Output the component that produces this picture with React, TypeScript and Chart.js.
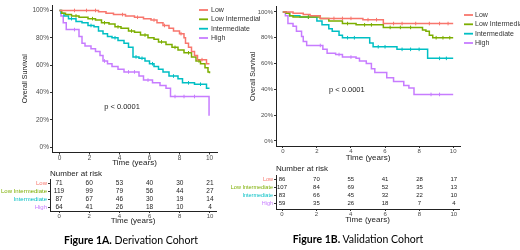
import React, { useEffect, useRef } from "react";
import { Chart, registerables } from "chart.js";
Chart.register(...registerables);

// ---------- data ----------
const groups = ["Low", "Low Intermediate", "Intermediate", "High"];
const groupColors = ["#F8766D", "#7CAE00", "#00BFC4", "#C77CFF"];
const xTickValues = [0, 2, 4, 6, 8, 10];
const yTickValues = [0, 20, 40, 60, 80, 100];
const riskTimes = [0, 2, 4, 6, 8, 10];

// Figure 1A — Derivation cohort (time in years, overall survival %)
const derivLowT = [0, 2.6, 3.1, 3.6, 4.4, 5.0, 5.6, 6.1, 6.5, 6.9, 7.3, 7.6, 8.0, 8.3, 8.4, 8.6, 8.8, 9.0, 9.2, 9.8, 10];
const derivLowS = [100, 99, 98, 97, 96, 95, 94, 93, 91, 89, 87, 85, 83, 80, 76, 73, 70, 67, 64, 61, 61];
const derivLowIntT = [0, 0.15, 0.4, 0.8, 1.3, 1.9, 2.4, 2.8, 3.3, 3.7, 4.1, 4.6, 5.0, 5.4, 5.9, 6.3, 6.6, 7.1, 7.5, 7.9, 8.3, 8.8, 9.1, 9.4, 9.7, 9.9, 10];
const derivLowIntS = [100, 98, 97, 96, 95, 94, 93, 91, 90, 88, 87, 85, 84, 82, 80, 79, 77, 75, 73, 71, 69, 66, 63, 61, 58, 55, 54];
const derivIntT = [0, 0.1, 0.3, 0.6, 1.1, 1.5, 1.9, 2.3, 2.6, 2.9, 3.2, 3.5, 3.9, 4.3, 4.6, 4.9, 5.3, 5.7, 6.0, 6.3, 6.6, 6.9, 7.3, 7.9, 8.2, 9.0, 9.8, 10];
const derivIntS = [100, 98, 96, 94, 92, 91, 89, 88, 85, 83, 81, 80, 78, 76, 73, 66, 65, 63, 61, 59, 57, 55, 52, 50, 47, 46, 43, 43];
const derivHighT = [0, 0.1, 0.25, 0.45, 1.3, 1.5, 1.7, 2.1, 2.4, 2.7, 2.9, 3.2, 3.5, 3.9, 4.3, 5.3, 5.6, 6.2, 6.7, 7.1, 7.4, 9.97];
const derivHighS = [100, 96, 91, 86, 81, 76, 74, 72, 70, 67, 63, 61, 59, 57, 55, 52, 49, 47, 45, 43, 37, 23];

// censoring times (years) — Derivation
const derivLowCens = [1.0, 1.8, 2.4, 4.2, 5.2, 6.3, 7.0, 8.1, 9.5];
const derivLowIntCens = [1.1, 2.2, 3.0, 3.9, 4.8, 5.7, 6.8, 7.7, 8.6, 9.3];
const derivIntCens = [0.8, 2.1, 3.7, 5.1, 5.5, 6.2, 7.6, 8.6, 9.4];
const derivHighCens = [1.0, 3.0, 4.6, 5.0, 5.9, 7.7, 8.3, 9.0];

// Figure 1B — Validation cohort
const validLowT = [0, 0.6, 1.2, 1.6, 2.2, 4.7, 5.9, 10];
const validLowS = [100, 99, 98, 97, 95, 94, 91, 91];
const validLowIntT = [0, 0.2, 0.4, 0.6, 2.2, 2.7, 3.5, 4.3, 5.9, 8.2, 8.4, 8.6, 8.8, 10];
const validLowIntS = [100, 99, 97, 96, 95, 93, 91, 90, 88, 86, 85, 82, 80, 80];
const validIntT = [0, 0.2, 0.4, 1.0, 2.0, 2.3, 2.7, 2.9, 3.3, 3.5, 5.1, 5.3, 6.7, 8.5, 10];
const validIntS = [100, 99, 97, 96, 93, 90, 87, 85, 82, 80, 76, 73, 71, 64, 64];
const validHighT = [0, 0.15, 0.3, 0.6, 0.8, 1.1, 1.2, 1.4, 2.35, 2.6, 3.1, 3.5, 4.3, 4.5, 4.9, 5.2, 5.4, 6.1, 6.5, 7.1, 7.4, 7.7, 10];
const validHighS = [100, 97, 91, 89, 85, 81, 77, 74, 71, 68, 67, 65, 64, 62, 60, 56, 53, 49, 46, 43, 41, 36, 36];

// censoring times (years) — Validation
const validLowCens = [3.0, 3.5, 4.0, 5.0, 5.5, 6.5, 7.0, 7.8, 8.6, 9.2, 9.7];
const validLowIntCens = [1.5, 3.8, 4.8, 5.2, 6.3, 6.9, 7.5, 9.0, 9.4, 9.8];
const validIntCens = [1.5, 3.8, 4.2, 5.6, 6.0, 7.0, 7.5, 8.0, 9.2, 9.6];
const validHighCens = [2.2, 3.3, 4.0, 8.7, 9.2];

// Number at risk
const derivRiskLow = [71, 60, 53, 40, 30, 21];
const derivRiskLowInt = [119, 99, 79, 56, 44, 27];
const derivRiskInt = [87, 67, 46, 30, 19, 14];
const derivRiskHigh = [64, 41, 26, 18, 10, 4];
const validRiskLow = [86, 70, 55, 41, 28, 17];
const validRiskLowInt = [107, 84, 69, 52, 35, 13];
const validRiskInt = [83, 66, 45, 32, 22, 10];
const validRiskHigh = [59, 35, 26, 18, 7, 4];

const pValueText = "p < 0.0001";
const FONT = "'Liberation Sans', Arial, sans-serif";

// survival value of a step curve at time c (last step at or before c)
function stepValue(t: number[], s: number[], c: number) {
  let v = s[0];
  for (let i = 0; i < t.length; i++) if (t[i] <= c) v = s[i];
  return v;
}

// ---------- chart builders ----------
type KMOpts = {
  series: [number[], number[], number[]][];
  xMin: number; xMax: number; yMin: number; yMax: number;
  padTop: number; padRight: number; yAxisW: number; xAxisH: number;
  yTitlePad: number; tickFont: number;
  legendLineX: number; legendTextX: number; legendRows: number[];
  pX: number; pY: number;
};

function kmConfig(o: KMOpts): any {
  const legendPlugin = {
    id: "kmLegend",
    afterDraw(chart: any) {
      const ctx = chart.ctx;
      ctx.save();
      ctx.font = `7px ${FONT}`;
      ctx.textBaseline = "middle";
      ctx.textAlign = "left";
      groups.forEach((g, i) => {
        const y = o.legendRows[i];
        ctx.strokeStyle = groupColors[i];
        ctx.lineWidth = 1.8;
        ctx.beginPath();
        ctx.moveTo(o.legendLineX, y);
        ctx.lineTo(o.legendLineX + 9, y);
        ctx.stroke();
        ctx.fillStyle = "#333";
        ctx.fillText(g, o.legendTextX, y);
      });
      const px = chart.scales.x.getPixelForValue(o.pX);
      const py = chart.scales.y.getPixelForValue(o.pY);
      ctx.font = `7.5px ${FONT}`;
      ctx.textAlign = "center";
      ctx.fillStyle = "#222";
      ctx.fillText(pValueText, px, py);
      ctx.restore();
    },
  };
  const curves = o.series.map(([t, s], i) => ({
    type: "line",
    label: groups[i],
    data: t.map((x, k) => ({ x, y: s[k] })),
    borderColor: groupColors[i],
    backgroundColor: groupColors[i],
    borderWidth: 1.5,
    stepped: "before",
    pointRadius: 0,
    fill: false,
    order: 1,
  }));
  const censors = o.series.map(([t, s, c], i) => ({
    type: "scatter",
    label: groups[i] + " censored",
    data: c.map((x) => ({ x, y: stepValue(t, s, x) })),
    borderColor: groupColors[i],
    backgroundColor: groupColors[i],
    pointStyle: "line",
    rotation: 90,
    pointRadius: 1.8,
    pointBorderWidth: 1,
    showLine: false,
    order: 0,
  }));
  return {
    type: "line",
    data: { datasets: [...curves, ...censors] },
    options: {
      animation: false,
      responsive: false,
      maintainAspectRatio: false,
      layout: { padding: { top: o.padTop, right: o.padRight, left: 0, bottom: 0 } },
      plugins: { legend: { display: false }, tooltip: { enabled: false }, title: { display: false } },
      scales: {
        x: {
          type: "linear",
          min: o.xMin,
          max: o.xMax,
          afterBuildTicks: (s: any) => { s.ticks = xTickValues.map((v) => ({ value: v })); },
          afterFit: (s: any) => { s.height = o.xAxisH; },
          ticks: { font: { size: o.tickFont, family: FONT }, color: "#4D4D4D", padding: 0, maxRotation: 0, autoSkip: false },
          grid: { display: true, drawOnChartArea: false, drawTicks: true, tickLength: 2, tickColor: "#333" },
          border: { display: true, color: "#222", width: 1 },
          title: { display: true, text: "Time (years)", font: { size: 8, family: FONT }, color: "#222", padding: { top: 0, bottom: 0 } },
        },
        y: {
          type: "linear",
          min: o.yMin,
          max: o.yMax,
          afterBuildTicks: (s: any) => { s.ticks = yTickValues.map((v) => ({ value: v })); },
          afterFit: (s: any) => { s.width = o.yAxisW; },
          ticks: { font: { size: o.tickFont, family: FONT }, color: "#4D4D4D", padding: 1, callback: (v: any) => `${v}%` },
          grid: { display: true, drawOnChartArea: false, drawTicks: true, tickLength: 2, tickColor: "#333" },
          border: { display: true, color: "#222", width: 1 },
          title: { display: true, text: "Overall Survival", font: { size: 7, family: FONT }, color: "#222", padding: { top: o.yTitlePad, bottom: 0 } },
        },
      },
    },
    plugins: [legendPlugin],
  };
}

type RiskOpts = {
  rows: number[][];
  xMin: number; xMax: number; yMax: number;
  padTop: number; padRight: number; yAxisW: number; xAxisH: number;
  numFont: number; labelFont: number; headerDy: number;
};

function riskConfig(o: RiskOpts): any {
  const textPlugin = {
    id: "riskText",
    afterDraw(chart: any) {
      const ctx = chart.ctx;
      ctx.save();
      ctx.textBaseline = "middle";
      ctx.fillStyle = "#222";
      ctx.font = `8px ${FONT}`;
      ctx.textAlign = "left";
      ctx.fillText("Number at risk", chart.chartArea.left, chart.chartArea.top - o.headerDy);
      ctx.font = `${o.numFont}px ${FONT}`;
      ctx.textAlign = "center";
      chart.data.datasets.forEach((ds: any, i: number) => {
        const meta = chart.getDatasetMeta(i);
        meta.data.forEach((pt: any, k: number) => {
          ctx.fillText(String(ds.data[k].n), pt.x, pt.y);
        });
      });
      ctx.restore();
    },
  };
  return {
    type: "scatter",
    data: {
      datasets: o.rows.map((r, i) => ({
        label: groups[i],
        data: riskTimes.map((t, k) => ({ x: t, y: i, n: r[k] })),
        pointRadius: 0,
        showLine: false,
      })),
    },
    options: {
      animation: false,
      responsive: false,
      maintainAspectRatio: false,
      layout: { padding: { top: o.padTop, right: o.padRight, left: 0, bottom: 0 } },
      plugins: { legend: { display: false }, tooltip: { enabled: false } },
      scales: {
        x: {
          type: "linear",
          min: o.xMin,
          max: o.xMax,
          afterBuildTicks: (s: any) => { s.ticks = xTickValues.map((v) => ({ value: v })); },
          afterFit: (s: any) => { s.height = o.xAxisH; },
          ticks: { font: { size: 6, family: FONT }, color: "#4D4D4D", padding: 0, maxRotation: 0, autoSkip: false },
          grid: { display: true, drawOnChartArea: false, drawTicks: true, tickLength: 2, tickColor: "#333" },
          border: { display: true, color: "#222", width: 1 },
          title: { display: true, text: "Time (years)", font: { size: 8, family: FONT }, color: "#222", padding: { top: 0, bottom: 0 } },
        },
        y: {
          type: "linear",
          min: -0.5,
          max: o.yMax,
          reverse: true,
          afterBuildTicks: (s: any) => { s.ticks = groups.map((_, i) => ({ value: i })); },
          afterFit: (s: any) => { s.width = o.yAxisW; },
          ticks: {
            font: { size: o.labelFont, family: FONT },
            color: (c: any) => groupColors[c.tick ? c.tick.value : c.index] || "#333",
            padding: 1,
            autoSkip: false,
            callback: (v: any) => groups[v],
          },
          grid: { display: true, drawOnChartArea: false, drawTicks: true, tickLength: 2, tickColor: "#333" },
          border: { display: true, color: "#222", width: 1 },
        },
      },
    },
    plugins: [textPlugin],
  };
}

function ChartCanvas({ config, left, top, width, height }: { config: any; left: number; top: number; width: number; height: number }) {
  const ref = useRef<HTMLCanvasElement>(null);
  useEffect(() => {
    if (!ref.current) return;
    const chart = new Chart(ref.current, config);
    return () => chart.destroy();
  }, []);
  return (
    <canvas
      ref={ref}
      width={width}
      height={height}
      style={{ position: "absolute", left, top, width, height }}
    />
  );
}

export default function App() {
  const derivKM = kmConfig({
    series: [
      [derivLowT, derivLowS, derivLowCens],
      [derivLowIntT, derivLowIntS, derivLowIntCens],
      [derivIntT, derivIntS, derivIntCens],
      [derivHighT, derivHighS, derivHighCens],
    ],
    xMin: -0.5, xMax: 10.5, yMin: -4, yMax: 104,
    padTop: 4.5, padRight: 43, yAxisW: 52, xAxisH: 15.5, yTitlePad: 20.8, tickFont: 6.5,
    legendLineX: 199, legendTextX: 211, legendRows: [10, 19.3, 28.7, 38],
    pX: 4.17, pY: 29,
  });
  const validKM = kmConfig({
    series: [
      [validLowT, validLowS, validLowCens],
      [validLowIntT, validLowIntS, validLowIntCens],
      [validIntT, validIntS, validIntCens],
      [validHighT, validHighS, validHighCens],
    ],
    xMin: -0.4, xMax: 10.4, yMin: -4, yMax: 104,
    padTop: 6.8, padRight: 60, yAxisW: 40, xAxisH: 17, yTitlePad: 12.8, tickFont: 6,
    legendLineX: 228, legendTextX: 239, legendRows: [15, 24.3, 33.7, 43],
    pX: 3.76, pY: 39.5,
  });
  const derivRisk = riskConfig({
    rows: [derivRiskLow, derivRiskLowInt, derivRiskInt, derivRiskHigh],
    xMin: -0.6, xMax: 10.4, yMax: 3.5,
    padTop: 15, padRight: 44, yAxisW: 50, xAxisH: 15,
    numFont: 6.5, labelFont: 6, headerDy: 5,
  });
  const validRisk = riskConfig({
    rows: [validRiskLow, validRiskLowInt, validRiskInt, validRiskHigh],
    xMin: -0.35, xMax: 10.3, yMax: 3.75,
    padTop: 15, padRight: 61, yAxisW: 46, xAxisH: 16,
    numFont: 6, labelFont: 5.5, headerDy: 6,
  });
  const captionStyle: React.CSSProperties = {
    position: "absolute",
    fontFamily: "Lato, 'Open Sans', sans-serif",
    fontSize: 10.5,
    color: "#000",
    whiteSpace: "nowrap",
    transform: "translate(-50%, -50%)",
    lineHeight: "14px",
  };
  return (
    <div style={{ position: "absolute", left: 0, top: 0, width: 520, height: 250, background: "#fff", overflow: "hidden" }}>
      <ChartCanvas config={derivKM} left={0} top={0} width={260} height={168} />
      <ChartCanvas config={derivRisk} left={0} top={164} width={260} height={62} />
      <ChartCanvas config={validKM} left={236} top={0} width={284} height={163} />
      <ChartCanvas config={validRisk} left={230} top={160} width={290} height={65} />
      <div style={{ ...captionStyle, left: 131, top: 240 }}>
        <b>Figure 1A.</b> Derivation Cohort
      </div>
      <div style={{ ...captionStyle, left: 358, top: 239 }}>
        <b>Figure 1B.</b> Validation Cohort
      </div>
    </div>
  );
}
